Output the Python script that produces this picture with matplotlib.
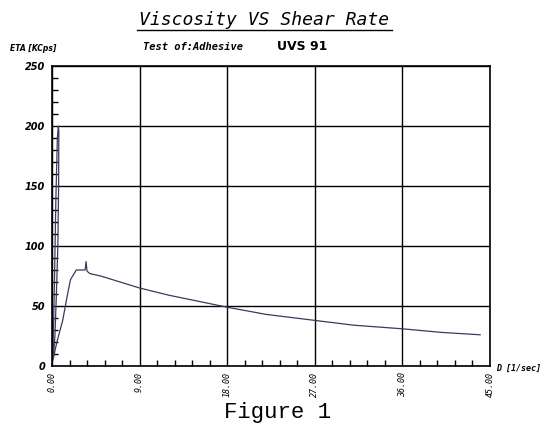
import matplotlib
matplotlib.use("Agg")
import matplotlib.pyplot as plt
from matplotlib.ticker import MultipleLocator, FixedLocator

# shear rate D [1/sec] vs viscosity ETA [KCps]
ramp_x = [0.0, 0.1, 0.25, 0.4, 0.55, 0.65, 0.7, 0.68, 0.6, 0.45, 0.3, 0.15]
ramp_y = [0, 12, 70, 140, 190, 200, 196, 150, 100, 60, 25, 8]

shear = [0.1, 0.5, 1.1, 1.6, 1.9, 2.5, 3.0, 3.4, 3.5, 3.6, 3.9, 5.0, 7.0, 9.0,
         12.0, 15.0, 18.0, 22.0, 27.0, 31.0, 36.0, 40.0, 44.0]
eta = [5, 20, 38, 60, 72, 80, 80, 80, 87, 79, 77, 75, 70, 65,
       59, 54, 49, 43, 38, 34, 31, 28, 26]

x_ticks = [0, 9, 18, 27, 36, 45]
y_ticks = [0, 50, 100, 150, 200, 250]

LINE = "#3a3a5c"

fig = plt.figure(figsize=(5.44, 4.23), dpi=100)
ax = fig.add_axes([0.0956, 0.1348, 0.805, 0.709])

ax.plot(ramp_x, ramp_y, color=LINE, linewidth=0.9)
ax.plot(shear, eta, color=LINE, linewidth=0.9)

ax.set_xlim(0, 45)
ax.set_ylim(0, 250)
ax.xaxis.set_major_locator(FixedLocator(x_ticks))
ax.yaxis.set_major_locator(FixedLocator(y_ticks))
ax.xaxis.set_minor_locator(MultipleLocator(1.8))
ax.yaxis.set_minor_locator(MultipleLocator(10))
ax.grid(True, which="major", color="black", linewidth=1.0)
ax.tick_params(which="both", direction="in", width=1.0)
ax.tick_params(which="major", length=0)
ax.tick_params(which="minor", length=4)
for s in ax.spines.values():
    s.set_linewidth(1.2)

ax.set_xticklabels([f"{v:.2f}" for v in x_ticks], rotation=90,
                   family="DejaVu Sans Mono", style="italic", fontsize=6)
ax.set_yticklabels([str(v) for v in y_ticks], style="italic",
                   fontsize=7, fontweight="bold")
ax.tick_params(axis="x", pad=4)
ax.tick_params(axis="y", pad=5)

fig.text(0.486, 0.953, "Viscosity VS Shear Rate", ha="center", va="center",
         family="DejaVu Sans Mono", style="italic", fontsize=13)
fig.add_artist(plt.Line2D([0.252, 0.72], [0.929, 0.929], color="black",
                          linewidth=1.0, transform=fig.transFigure))
fig.text(0.263, 0.889, "Test of:Adhesive", ha="left", va="center",
         family="DejaVu Sans Mono", style="italic", fontweight="bold", fontsize=7.5)
fig.text(0.509, 0.889, "UVS 91", ha="left", va="center",
         family="DejaVu Sans", fontweight="bold", fontsize=9)
fig.text(0.018, 0.886, "ETA [KCps]", ha="left", va="center",
         style="italic", fontweight="bold", fontsize=5.5)
fig.text(0.912, 0.130, "D [1/sec]", ha="left", va="center",
         family="DejaVu Sans Mono", style="italic", fontweight="bold", fontsize=6)
fig.text(0.511, 0.024, "Figure 1", ha="center", va="center",
         family="Liberation Mono", fontsize=16)

fig.savefig("out.png", dpi=100)
